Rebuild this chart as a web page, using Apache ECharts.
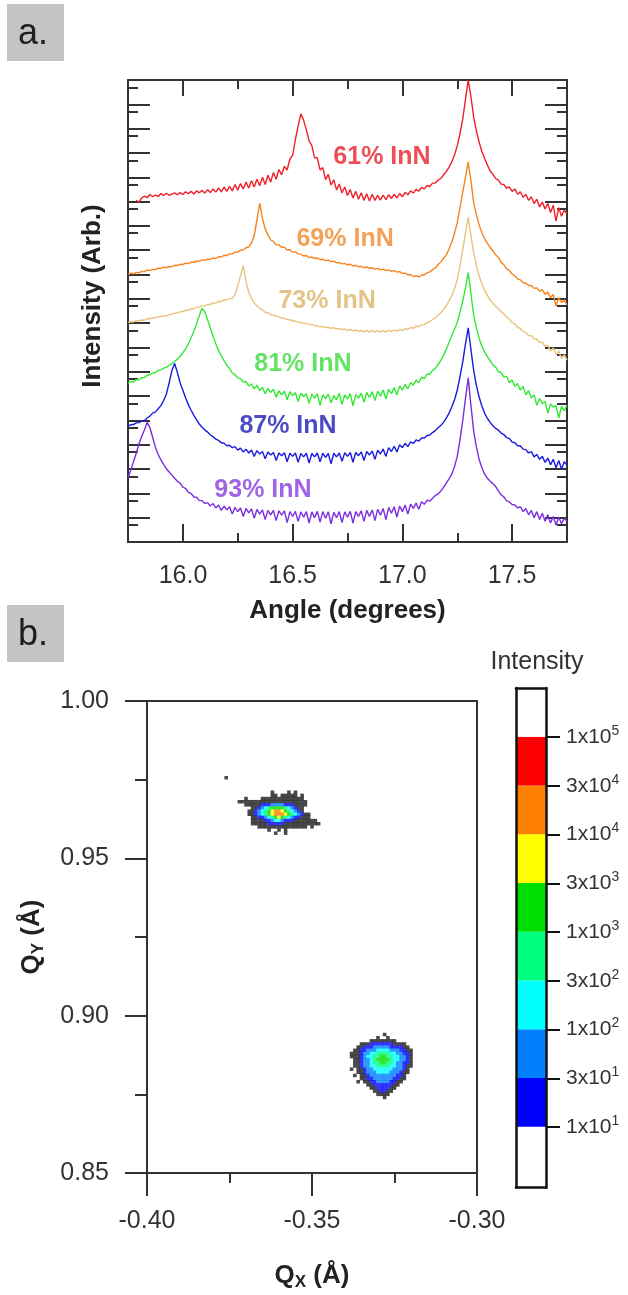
<!DOCTYPE html>
<html><head><meta charset="utf-8">
<script src="https://cdn.jsdelivr.net/npm/echarts@6/dist/echarts.min.js"></script>
<style>html,body{margin:0;padding:0;background:#fff;}#c{width:628px;height:1295px;}</style>
</head><body><div id="c"></div>
<script>
// ---------- Panel a: XRD scans (angle in degrees, intensity in arbitrary offset units) ----------
const angle = [15.75,15.7625,15.775,15.7875,15.8,15.8125,15.825,15.8375,15.85,15.8625,15.875,15.8875,15.9,15.9125,15.925,15.9375,15.95,15.9625,15.975,15.9875,
16,16.0125,16.025,16.0375,16.05,16.0625,16.075,16.0875,16.1,16.1125,16.125,16.1375,16.15,16.1625,16.175,16.1875,16.2,16.2125,16.225,16.2375,
16.25,16.2625,16.275,16.2875,16.3,16.3125,16.325,16.3375,16.35,16.3625,16.375,16.3875,16.4,16.4125,16.425,16.4375,16.45,16.4625,16.475,16.4875,
16.5,16.5125,16.525,16.5375,16.55,16.5625,16.575,16.5875,16.6,16.6125,16.625,16.6375,16.65,16.6625,16.675,16.6875,16.7,16.7125,16.725,16.7375,
16.75,16.7625,16.775,16.7875,16.8,16.8125,16.825,16.8375,16.85,16.8625,16.875,16.8875,16.9,16.9125,16.925,16.9375,16.95,16.9625,16.975,16.9875,
17,17.0125,17.025,17.0375,17.05,17.0625,17.075,17.0875,17.1,17.1125,17.125,17.1375,17.15,17.1625,17.175,17.1875,17.2,17.2125,17.225,17.2375,
17.25,17.2625,17.275,17.2875,17.3,17.3125,17.325,17.3375,17.35,17.3625,17.375,17.3875,17.4,17.4125,17.425,17.4375,17.45,17.4625,17.475,17.4875,
17.5,17.5125,17.525,17.5375,17.55,17.5625,17.575,17.5875,17.6,17.6125,17.625,17.6375,17.65,17.6625,17.675,17.6875,17.7,17.7125,17.725,17.7375,17.75];

const inn61 = [null,null,null,14.05,13.98,14.15,14.22,14.16,14.29,14.20,14.27,14.21,14.33,14.25,14.34,14.26,14.31,14.36,14.28,14.37,
14.29,14.40,14.32,14.42,14.31,14.44,14.36,14.46,14.35,14.49,14.37,14.52,14.39,14.56,14.40,14.60,14.42,14.63,14.44,14.70,
14.47,14.74,14.52,14.80,14.56,14.86,14.60,14.92,14.65,15.00,14.70,15.08,14.80,15.20,14.92,15.32,15.10,15.45,15.30,15.75,
15.90,16.55,17.10,17.61,17.35,16.95,16.50,16.30,15.80,15.80,15.30,15.40,14.90,15.12,14.68,14.90,14.48,14.72,14.35,14.60,
14.25,14.50,14.15,14.42,14.10,14.36,14.05,14.32,14.02,14.30,14.05,14.26,14.06,14.27,14.08,14.28,14.12,14.30,14.15,14.33,
14.20,14.38,14.28,14.44,14.35,14.50,14.43,14.58,14.52,14.66,14.62,14.76,14.76,14.88,14.95,15.10,15.23,15.42,15.63,15.92,
16.29,16.80,17.39,18.20,19.00,18.30,17.46,16.90,16.43,16.05,15.77,15.50,15.26,15.12,14.95,14.88,14.72,14.70,14.55,14.60,
14.42,14.52,14.30,14.40,14.18,14.30,14.05,14.20,13.92,14.10,13.78,13.98,13.70,13.92,13.55,13.85,13.20,13.75,13.40,13.65,13.50];
const inn69 = [11.01,11.05,11.03,11.09,11.07,11.13,11.12,11.18,11.16,11.21,11.20,11.26,11.25,11.30,11.28,11.33,11.32,11.38,11.37,11.42,
11.41,11.47,11.45,11.51,11.50,11.56,11.54,11.60,11.58,11.63,11.62,11.68,11.66,11.73,11.72,11.79,11.78,11.85,11.85,11.92,
11.92,12.00,12.01,12.10,12.13,12.30,12.60,13.25,13.94,13.30,12.88,12.62,12.42,12.36,12.22,12.22,12.12,12.12,12.01,12.02,
11.92,11.93,11.85,11.84,11.76,11.78,11.70,11.72,11.66,11.68,11.61,11.63,11.57,11.59,11.53,11.55,11.48,11.50,11.44,11.46,
11.40,11.42,11.35,11.38,11.32,11.34,11.28,11.31,11.25,11.28,11.22,11.25,11.19,11.22,11.16,11.19,11.13,11.16,11.10,11.12,
11.04,11.06,10.99,11.00,10.91,10.95,10.90,10.97,10.99,11.07,11.11,11.20,11.27,11.40,11.52,11.66,11.81,12.05,12.33,12.70,
13.13,13.75,14.38,15.00,15.63,14.85,13.94,13.45,13.03,12.72,12.47,12.28,12.11,11.98,11.81,11.70,11.50,11.40,11.23,11.17,
11.02,10.95,10.82,10.78,10.66,10.65,10.55,10.55,10.43,10.45,10.32,10.38,10.18,10.28,10.05,10.18,9.70,10.05,9.85,9.95,9.75];
const inn73 = [9.03,9.06,9.05,9.10,9.09,9.13,9.12,9.18,9.18,9.22,9.22,9.27,9.27,9.31,9.30,9.36,9.36,9.41,9.42,9.47,
9.48,9.53,9.53,9.59,9.59,9.66,9.66,9.71,9.71,9.77,9.77,9.83,9.83,9.90,9.89,9.96,9.96,10.02,10.02,10.18,
10.54,10.95,11.37,10.72,10.27,10.03,9.83,9.72,9.61,9.55,9.45,9.42,9.35,9.34,9.28,9.27,9.21,9.20,9.15,9.14,
9.09,9.09,9.03,9.03,8.99,8.99,8.94,8.95,8.90,8.90,8.85,8.86,8.82,8.83,8.79,8.81,8.76,8.78,8.73,8.76,
8.70,8.74,8.68,8.72,8.66,8.70,8.64,8.69,8.63,8.69,8.63,8.69,8.63,8.69,8.63,8.70,8.65,8.71,8.67,8.74,
8.70,8.78,8.74,8.82,8.79,8.87,8.86,8.93,8.94,9.02,9.06,9.15,9.22,9.33,9.42,9.56,9.71,9.92,10.13,10.42,
10.79,11.35,12.03,12.70,13.35,12.60,11.89,11.35,10.93,10.62,10.35,10.14,9.95,9.83,9.69,9.60,9.47,9.38,9.25,9.16,
9.03,8.96,8.83,8.78,8.66,8.62,8.49,8.48,8.36,8.34,8.20,8.22,8.05,8.08,7.85,7.98,7.72,7.85,7.55,7.70,7.48];
const inn81 = [6.53,6.60,6.58,6.68,6.66,6.76,6.76,6.86,6.88,6.95,6.97,7.06,7.08,7.15,7.18,7.27,7.33,7.42,7.52,7.63,
7.78,7.94,8.15,8.40,8.66,8.98,9.32,9.61,9.47,9.14,8.81,8.46,8.15,7.88,7.66,7.46,7.27,7.14,6.95,6.88,
6.74,6.72,6.58,6.60,6.42,6.50,6.30,6.45,6.22,6.36,6.10,6.32,6.15,6.28,5.95,6.22,6.05,6.20,5.85,6.18,
6.02,6.14,5.78,6.12,5.98,6.10,5.70,6.08,5.92,6.10,5.62,6.05,5.90,6.08,5.72,6.02,5.85,6.12,5.66,6.05,
5.88,6.10,5.60,6.06,5.92,6.12,5.75,6.15,5.95,6.18,5.82,6.20,6.00,6.25,5.88,6.28,6.10,6.35,6.05,6.42,
6.25,6.48,6.30,6.56,6.45,6.66,6.55,6.78,6.72,6.90,6.90,7.06,7.14,7.30,7.46,7.68,7.92,8.20,8.48,8.75,
9.03,9.45,9.91,10.45,11.08,10.20,9.32,8.80,8.37,8.05,7.81,7.62,7.46,7.28,7.19,7.00,6.97,6.78,6.82,6.55,
6.66,6.40,6.52,6.25,6.40,6.05,6.22,5.92,6.05,5.62,5.90,5.70,5.78,5.30,5.68,5.55,5.62,5.10,5.58,5.40,5.62];
const inn87 = [4.77,4.82,4.83,4.90,4.91,4.98,5.00,5.10,5.18,5.30,5.35,5.48,5.61,5.82,6.09,6.55,7.05,7.34,6.97,6.55,
6.24,5.92,5.65,5.42,5.21,5.02,4.85,4.72,4.61,4.52,4.40,4.33,4.23,4.18,4.08,4.06,3.96,3.98,3.88,3.92,
3.78,3.86,3.70,3.82,3.66,3.78,3.52,3.76,3.62,3.72,3.42,3.70,3.58,3.68,3.35,3.66,3.55,3.67,3.30,3.65,
3.52,3.66,3.28,3.64,3.50,3.65,3.25,3.64,3.50,3.66,3.30,3.65,3.48,3.64,3.22,3.65,3.50,3.66,3.32,3.67,
3.52,3.68,3.28,3.68,3.55,3.70,3.35,3.72,3.58,3.74,3.40,3.78,3.62,3.82,3.52,3.88,3.72,3.94,3.70,4.00,
3.88,4.06,3.92,4.12,4.05,4.20,4.15,4.28,4.28,4.38,4.40,4.50,4.58,4.70,4.79,4.92,5.09,5.30,5.55,5.85,
6.24,6.80,7.41,8.15,8.81,7.90,7.05,6.42,5.95,5.58,5.29,5.08,4.92,4.78,4.67,4.60,4.48,4.42,4.29,4.25,
4.11,4.08,3.96,3.95,3.82,3.80,3.66,3.72,3.50,3.60,3.40,3.52,3.28,3.45,3.18,3.40,3.05,3.35,3.00,3.30,3.15];
const inn93 = [2.64,2.95,3.30,3.65,4.04,4.35,4.62,4.92,4.70,4.30,3.89,3.60,3.38,3.18,3.01,2.88,2.75,2.62,2.50,2.42,
2.26,2.20,2.04,2.00,1.85,1.84,1.70,1.70,1.58,1.62,1.48,1.58,1.40,1.52,1.30,1.48,1.32,1.45,1.15,1.42,
1.25,1.40,1.05,1.38,1.20,1.36,0.98,1.34,1.15,1.32,0.92,1.30,1.12,1.30,0.88,1.28,1.10,1.28,0.80,1.25,
1.05,1.26,0.85,1.24,1.02,1.25,0.78,1.24,1.00,1.26,0.82,1.25,0.98,1.24,0.75,1.22,1.00,1.25,0.80,1.24,
1.02,1.26,0.78,1.25,1.05,1.28,0.85,1.30,1.05,1.32,0.88,1.35,1.10,1.38,0.92,1.42,1.18,1.45,1.02,1.48,
1.25,1.52,1.15,1.56,1.38,1.60,1.35,1.66,1.55,1.72,1.68,1.80,1.91,1.98,2.09,2.25,2.42,2.60,2.79,3.10,
3.52,4.20,4.99,5.90,6.75,5.60,4.55,3.90,3.38,3.05,2.79,2.62,2.50,2.40,2.28,2.10,1.94,1.85,1.69,1.65,
1.54,1.52,1.40,1.45,1.25,1.38,1.12,1.30,1.00,1.25,0.92,1.18,0.85,1.12,0.78,1.05,0.70,1.02,0.75,0.98,0.85];

const seriesNames = ['61% InN','69% InN','73% InN','81% InN','87% InN','93% InN'];
const seriesValues = [inn61, inn69, inn73, inn81, inn87, inn93];
const labelAngle = [16.907, 16.739, 16.657, 16.547, 16.479, 16.365];
const labelLevel = [15.83, 12.46, 9.91, 7.32, 4.77, 2.14];

// ---------- Panel b: reciprocal space map ----------
// each character is an intensity band: '.' none, '0' below 1x10^1, '1'..'8' colour-bar bands (bottom to top)
const cellStep = 0.001;
const spotUpperOrigin = [-0.372, 0.971];
const spotUpperRows = [
 "..........0....0.0.......",
 "..........00.00000.0.....",
 "..0....0000000000000.....",
 "000000000000000000000....",
 "..0000011122221110000....",
 "....0012345555432100.....",
 "...00123456776543210.....",
 "...0012345677765432100...",
 "....001123456543211000...",
 "....00001123321110000000.",
 "....000001111100000000000",
 "......000000000000000.0..",
 ".........0..0.0..........",
 "...........0..0.........."
];
const spotLowerOrigin = [-0.338, 0.895];
const spotLowerRows = [
 "....................",
 "..........0.........",
 "........0..0........",
 "......00000000......",
 "...00011111110000...",
 "..0011122222111100..",
 ".001122233332221100.",
 "0001223344443322110.",
 "0001233445544332210.",
 ".001223455554332210.",
 ".001223445544322110.",
 ".001223344443322100.",
 "0.0012233333322210..",
 "..0012223333222100..",
 ".0.00122222222110...",
 "...00112222221100...",
 "..0.001122221100....",
 ".....0011111100.....",
 "......00111100......",
 ".......001100.......",
 "........0000........",
 "..........0........."
];
const strayDots = [[-0.376, 0.9756]];
const cbLabels = ['1x10{s|1}','3x10{s|1}','1x10{s|2}','3x10{s|2}','1x10{s|3}','3x10{s|3}','1x10{s|4}','3x10{s|4}','1x10{s|5}'];
const cbBandHeights = [1.25,1,1,1,1,1,1,1,1,1];

// ---------- styles ----------
const FONT = 'Liberation Sans, Arial, Helvetica, sans-serif';
const lineColors = ['#f0202a','#f5841f','#e9c27e','#33e833','#1a1ae0','#7a2ee0'];
const labelColors = ['#e8222c','#f08a2c','#dcb468','#3cdc3c','#1e1eb8','#8a3ce0'];
const levelColors = ['#1c1c1c','#0000ff','#0080ff','#00ffff','#00ff80','#00e000','#ffff00','#ff8000','#ff0000'];
const cbColors = ['#ffffff','#0000ff','#0080ff','#00ffff','#00ff80','#00e000','#ffff00','#ff8000','#ff0000','#ffffff'];
const AX = '#333';

function spotPoints(rows, origin) {
  const pts = [];
  rows.forEach((row, r) => {
    for (let c = 0; c < row.length; c++) {
      const ch = row[c];
      if (ch === '.') continue;
      pts.push([+(origin[0] + c * cellStep).toFixed(4), +(origin[1] - r * cellStep).toFixed(4), +ch]);
    }
  });
  return pts;
}
const spotData = spotPoints(spotUpperRows, spotUpperOrigin)
  .concat(spotPoints(spotLowerRows, spotLowerOrigin))
  .concat(strayDots.map(d => [d[0], d[1], 0]));

const chart = echarts.init(document.getElementById('c'), null, {renderer: 'canvas'});

const line = (w) => ({color: AX, width: w});
const hiddenVal = (g) => ({gridIndex: g, type: 'value', show: false, min: 0, max: 1});

const option = {
  animation: false,
  backgroundColor: '#ffffff',
  textStyle: {fontFamily: FONT},
  grid: [
    {left: 128, top: 80, width: 439, height: 462},
    {left: 183, top: 80, width: 329, height: 462},
    {left: 128, top: 87.3, width: 439, height: 437.7},
    {left: 147, top: 701, width: 330, height: 472},
    {left: 516, top: 688, width: 30, height: 499.7},
    {left: 516, top: 737, width: 30, height: 390}
  ],
  xAxis: [
    {gridIndex: 0, type: 'value', min: 15.75, max: 17.75, interval: 0.25, position: 'bottom',
     axisLine: {show: true, onZero: false, lineStyle: line(2)}, axisTick: {show: true, inside: true, length: 9, lineStyle: line(2)},
     axisLabel: {show: false}, splitLine: {show: false}},
    {gridIndex: 0, type: 'value', min: 15.75, max: 17.75, interval: 0.25, position: 'top',
     axisLine: {show: true, onZero: false, lineStyle: line(2)}, axisTick: {show: true, inside: true, length: 9, lineStyle: line(2)},
     axisLabel: {show: false}, splitLine: {show: false}},
    {gridIndex: 1, type: 'value', min: 16, max: 17.5, interval: 0.5, position: 'bottom',
     axisLine: {show: false, onZero: false}, axisTick: {show: true, inside: true, length: 18, lineStyle: line(2)},
     axisLabel: {show: true, margin: 22, fontSize: 25, color: '#333', fontFamily: FONT, formatter: v => v.toFixed(1)},
     splitLine: {show: false},
     name: 'Angle (degrees)', nameLocation: 'middle', nameGap: 56,
     nameTextStyle: {fontSize: 26, fontWeight: 'bold', color: '#222', fontFamily: FONT}},
    {gridIndex: 1, type: 'value', min: 16, max: 17.5, interval: 0.5, position: 'top',
     axisLine: {show: false, onZero: false}, axisTick: {show: true, inside: true, length: 16, lineStyle: line(2)},
     axisLabel: {show: false}, splitLine: {show: false}},
    hiddenVal(2),
    {gridIndex: 3, type: 'value', min: -0.4, max: -0.3, interval: 0.05, position: 'bottom',
     axisLine: {show: true, onZero: false, lineStyle: line(2)}, axisTick: {show: true, inside: false, length: 23, lineStyle: line(2)},
     minorTick: {show: true, splitNumber: 2, length: 10, lineStyle: line(2)},
     axisLabel: {show: true, margin: 36, fontSize: 25, color: '#333', fontFamily: FONT, formatter: v => v.toFixed(2)},
     splitLine: {show: false}, minorSplitLine: {show: false},
     name: 'Q{sub|X} (Å)', nameLocation: 'middle', nameGap: 88,
     nameTextStyle: {fontSize: 26, fontWeight: 'bold', color: '#222', fontFamily: FONT, lineHeight: 30,
       rich: {sub: {fontSize: 17, fontWeight: 'bold', color: '#222', fontFamily: FONT, lineHeight: 17, verticalAlign: 'bottom'}}}},
    {gridIndex: 3, type: 'value', min: -0.4, max: -0.3, interval: 0.05, position: 'top',
     axisLine: {show: true, onZero: false, lineStyle: line(2)}, axisTick: {show: false}, axisLabel: {show: false}, splitLine: {show: false}},
    {gridIndex: 4, type: 'category', data: ['c'], position: 'bottom', z: 10,
     axisLine: {show: true, onZero: false, lineStyle: {color: '#111', width: 2.5}}, axisTick: {show: false}, axisLabel: {show: false}},
    {gridIndex: 4, type: 'category', data: ['c'], position: 'top', z: 10,
     axisLine: {show: true, onZero: false, lineStyle: {color: '#111', width: 2.5}}, axisTick: {show: false}, axisLabel: {show: false}},
    hiddenVal(5)
  ],
  yAxis: [
    {gridIndex: 0, type: 'value', min: 0, max: 19, interval: 1, position: 'left',
     axisLine: {show: true, onZero: false, lineStyle: line(2)}, axisTick: {show: true, inside: true, length: 22, lineStyle: line(2)},
     axisLabel: {show: false}, splitLine: {show: false}},
    {gridIndex: 0, type: 'value', min: 0, max: 19, interval: 1, position: 'right',
     axisLine: {show: true, onZero: false, lineStyle: line(2)}, axisTick: {show: true, inside: true, length: 22, lineStyle: line(2)},
     axisLabel: {show: false}, splitLine: {show: false}},
    hiddenVal(1),
    {gridIndex: 2, type: 'value', min: 1, max: 19, interval: 1, position: 'left',
     axisLine: {show: false, onZero: false}, axisTick: {show: true, inside: true, length: 10, lineStyle: line(2)},
     axisLabel: {show: false}, splitLine: {show: false}},
    {gridIndex: 2, type: 'value', min: 1, max: 19, interval: 1, position: 'right',
     axisLine: {show: false, onZero: false}, axisTick: {show: true, inside: true, length: 10, lineStyle: line(2)},
     axisLabel: {show: false}, splitLine: {show: false}},
    {gridIndex: 3, type: 'value', min: 0.85, max: 1.0, interval: 0.05, position: 'left',
     axisLine: {show: true, onZero: false, lineStyle: line(2)}, axisTick: {show: true, inside: false, length: 22, lineStyle: line(2)},
     minorTick: {show: true, splitNumber: 2, length: 12, lineStyle: line(2)},
     axisLabel: {show: true, margin: 38, fontSize: 25, color: '#333', fontFamily: FONT, formatter: v => v.toFixed(2)},
     splitLine: {show: false}, minorSplitLine: {show: false},
     name: 'Q{sub|Y} (Å)', nameLocation: 'middle', nameGap: 100, nameRotate: 90,
     nameTextStyle: {fontSize: 26, fontWeight: 'bold', color: '#222', fontFamily: FONT, lineHeight: 30,
       rich: {sub: {fontSize: 17, fontWeight: 'bold', color: '#222', fontFamily: FONT, lineHeight: 17, verticalAlign: 'bottom'}}}},
    {gridIndex: 3, type: 'value', min: 0.85, max: 1.0, interval: 0.05, position: 'right',
     axisLine: {show: true, onZero: false, lineStyle: line(2)}, axisTick: {show: false}, axisLabel: {show: false}, splitLine: {show: false}},
    {gridIndex: 4, type: 'value', min: 0, max: 10.25, position: 'left', z: 10,
     axisLine: {show: true, onZero: false, lineStyle: {color: '#111', width: 2.5}}, axisTick: {show: false}, axisLabel: {show: false}, splitLine: {show: false}},
    {gridIndex: 4, type: 'value', min: 0, max: 10.25, position: 'right', z: 10,
     axisLine: {show: true, onZero: false, lineStyle: {color: '#111', width: 2.5}}, axisTick: {show: false}, axisLabel: {show: false}, splitLine: {show: false}},
    {gridIndex: 5, type: 'value', min: 0, max: 8, interval: 1, position: 'right',
     axisLine: {show: false, onZero: false}, axisTick: {show: true, inside: false, length: 14, lineStyle: {color: '#111', width: 2}},
     axisLabel: {show: true, margin: 20, fontSize: 21, color: '#333', fontFamily: FONT, lineHeight: 26,
       formatter: v => cbLabels[Math.round(v)],
       rich: {s: {fontSize: 14, color: '#333', fontFamily: FONT, lineHeight: 14, verticalAlign: 'top'}}},
     splitLine: {show: false}}
  ],
  graphic: [
    {type: 'rect', shape: {x: 7, y: 4, width: 57, height: 57}, style: {fill: '#c4c4c4'}},
    {type: 'text', x: 33, y: 34, style: {text: 'a.', fontSize: 36, fontFamily: FONT, fill: '#1e1e1e', align: 'center', verticalAlign: 'middle'}},
    {type: 'rect', shape: {x: 7, y: 605, width: 57, height: 57}, style: {fill: '#c4c4c4'}},
    {type: 'text', x: 33, y: 635, style: {text: 'b.', fontSize: 36, fontFamily: FONT, fill: '#1e1e1e', align: 'center', verticalAlign: 'middle'}},
    {type: 'text', x: 93, y: 296, rotation: Math.PI / 2, style: {text: 'Intensity (Arb.)', fontSize: 26, fontWeight: 'bold', fontFamily: FONT, fill: '#222', align: 'center', verticalAlign: 'middle'}},
    {type: 'text', x: 537, y: 662, style: {text: 'Intensity', fontSize: 25, fontFamily: FONT, fill: '#333', align: 'center', verticalAlign: 'middle'}}
  ],
  series: []
};

seriesNames.forEach((nm, k) => {
  option.series.push({
    type: 'line', name: nm, xAxisIndex: 0, yAxisIndex: 0,
    data: angle.map((a, i) => [a, seriesValues[k][i]]),
    showSymbol: false, symbol: 'none', clip: true, connectNulls: false,
    lineStyle: {color: lineColors[k], width: 1.4}, z: 3
  });
});

option.series.push({
  type: 'scatter', xAxisIndex: 0, yAxisIndex: 0, symbolSize: 0.01, z: 5,
  itemStyle: {color: 'transparent'},
  data: seriesNames.map((nm, k) => ({
    name: nm, value: [labelAngle[k], labelLevel[k]],
    label: {show: true, position: 'inside', formatter: '{b}', fontSize: 25, fontWeight: 'bold', fontFamily: FONT, color: labelColors[k]}
  }))
});

option.series.push({
  type: 'scatter', xAxisIndex: 5, yAxisIndex: 5, symbol: 'rect', symbolSize: [3.6, 3.5], z: 3,
  data: spotData,
  itemStyle: {color: p => levelColors[p.value[2]]}
});

cbBandHeights.forEach((h, i) => {
  option.series.push({
    type: 'bar', xAxisIndex: 7, yAxisIndex: 7, stack: 'cb', barWidth: '100%',
    data: [h], itemStyle: {color: cbColors[i]}, silent: true
  });
});

chart.setOption(option);
</script>
</body></html>
